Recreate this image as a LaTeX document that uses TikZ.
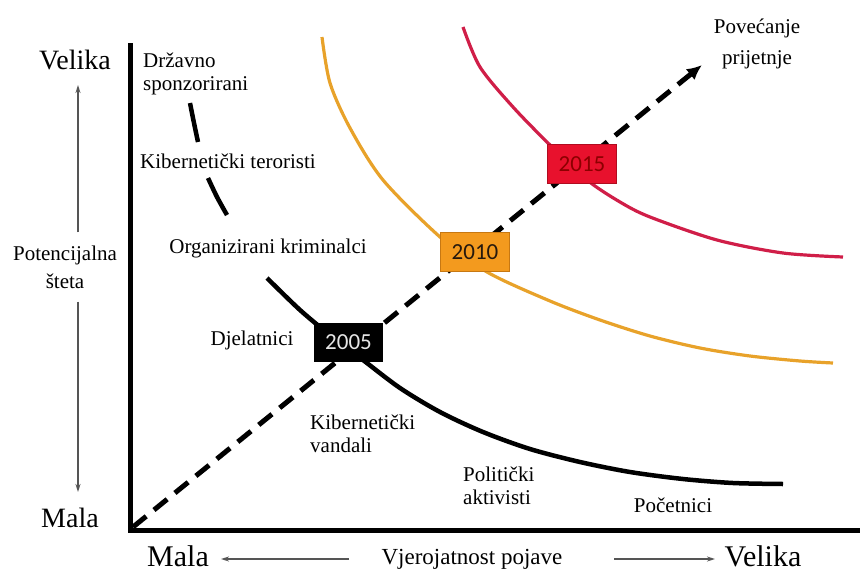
\documentclass[tikz,border=0pt]{standalone}
\usepackage{fontspec}
\setmainfont{Liberation Serif}
\newfontfamily\boxfont{Carlito}
\usetikzlibrary{arrows.meta}
\definecolor{curveorange}{HTML}{E8A22A}
\definecolor{curvered}{HTML}{D01E48}
\definecolor{boxorange}{HTML}{F39A1E}
\definecolor{boxorangeline}{HTML}{C77812}
\definecolor{boxred}{HTML}{E8112D}
\definecolor{boxredline}{HTML}{B00C20}
\definecolor{axgray}{HTML}{555555}
\begin{document}
\begin{tikzpicture}[x=1pt,y=-1pt,
  axisline/.style={line width=5pt, line join=miter},
  trend/.style={line width=5pt, dash pattern=on 17pt off 10pt, -{Latex[length=15pt,width=14pt]}},
  thinarrow/.style={draw=axgray, line width=1.4pt, -{Stealth[length=8pt,width=5pt]}},
  blackcurve/.style={line width=4.5pt, black},
  orangecurve/.style={line width=3.2pt, curveorange},
  redcurve/.style={line width=3.2pt, curvered},
  lbl/.style={font=\fontsize{21}{23}\selectfont, inner sep=0pt},
  biglbl/.style={font=\fontsize{28}{30}\selectfont, inner sep=0pt},
  yearbox/.style={minimum width=69pt, minimum height=39pt, inner sep=0pt, line width=1pt,
    font=\boxfont\fontsize{23}{23}\selectfont}
]
\useasboundingbox (0,0) rectangle (860,573);

% axes
\coordinate (ytop) at (130,43);
\coordinate (o) at (130,530);
\coordinate (xend) at (860,530);
\draw[axisline] (ytop) -- (o) -- (xend);

% curves
\draw[blackcurve] plot[smooth] coordinates {(190,103) (194,123) (198,142)};
\draw[blackcurve] plot[smooth] coordinates {(208,178) (217,197) (227,215)};
\draw[blackcurve] plot[smooth, tension=0.5] coordinates {(267,278) (300,310) (330,335) (363,360) (400,388) (440,412) (483,432) (530,449) (580,462) (630,472) (683,479) (733,483) (783,484)};
\draw[orangecurve] plot[smooth, tension=0.5] coordinates {(322,37) (330,83) (350,128) (383,180) (440,237) (487,272) (550,301) (600,320) (650,336) (700,348) (750,356) (800,361) (833,363)};
\draw[redcurve] plot[smooth, tension=0.5] coordinates {(463,27) (480,67) (513,107) (550,145) (587,180) (620,202) (650,217) (717,240) (783,253) (843,257)};

% trend arrow
\coordinate (ds) at (133,527);
\coordinate (tip) at (702,65);
\draw[trend] (ds) -- (tip);

% year boxes
\node[yearbox, fill=black, text=white!90!black] (b05) at (348.5,342) {2005};
\node[yearbox, fill=boxorange, draw=boxorangeline, text=black!80!brown] (b10) at (475,252) {2010};
\node[yearbox, fill=boxred, draw=boxredline, text=black!45!red] (b15) at (582,164) {2015};

% threat labels
\node[lbl, anchor=west, align=left] (drz) at (143,74) {Državno\\sponzorirani};
\node[lbl, anchor=base] (ter) at (228,168) {Kibernetički teroristi};
\node[lbl, anchor=base] (krim) at (268,253) {Organizirani kriminalci};
\node[lbl, anchor=base] (djel) at (252,345) {Djelatnici};
\node[lbl, anchor=west, align=left] (vand) at (310,434) {Kibernetički\\vandali};
\node[lbl, anchor=west, align=left] (akt) at (463,486) {Politički\\aktivisti};
\node[lbl, anchor=base] (poc) at (673,512) {Početnici};
\node[lbl, align=center, font=\fontsize{21}{31}\selectfont] (pov) at (757,44) {Povećanje\\prijetnje};

% vertical axis labels
\node[biglbl, anchor=base] (vvel) at (75,69) {Velika};
\node[biglbl, anchor=base] (vmal) at (70,527) {Mala};
\node[lbl, align=center, font=\fontsize{21}{28}\selectfont, inner ysep=13pt] (pot) at (65,267) {Potencijalna\\šteta};
\coordinate (vup) at (78,85);
\coordinate (vdn) at (78,492);
\draw[thinarrow] (pot.north -| vup) -- (vup);
\draw[thinarrow] (pot.south -| vdn) -- (vdn);

% horizontal axis labels
\node[inner sep=0pt, font=\fontsize{30}{32}\selectfont, anchor=base] (hmal) at (178,566) {Mala};
\node[inner sep=0pt, font=\fontsize{23}{25}\selectfont, anchor=base] (hlab) at (472,564) {Vjerojatnost pojave};
\node[inner sep=0pt, font=\fontsize{30}{32}\selectfont, anchor=base] (hvel) at (763,566) {Velika};
\coordinate (lstart) at (349,559);
\coordinate (lend) at (221,559);
\coordinate (rstart) at (614,559);
\coordinate (rend) at (715,559);
\draw[thinarrow] (lstart) -- (lend);
\draw[thinarrow] (rstart) -- (rend);
\end{tikzpicture}
\end{document}
